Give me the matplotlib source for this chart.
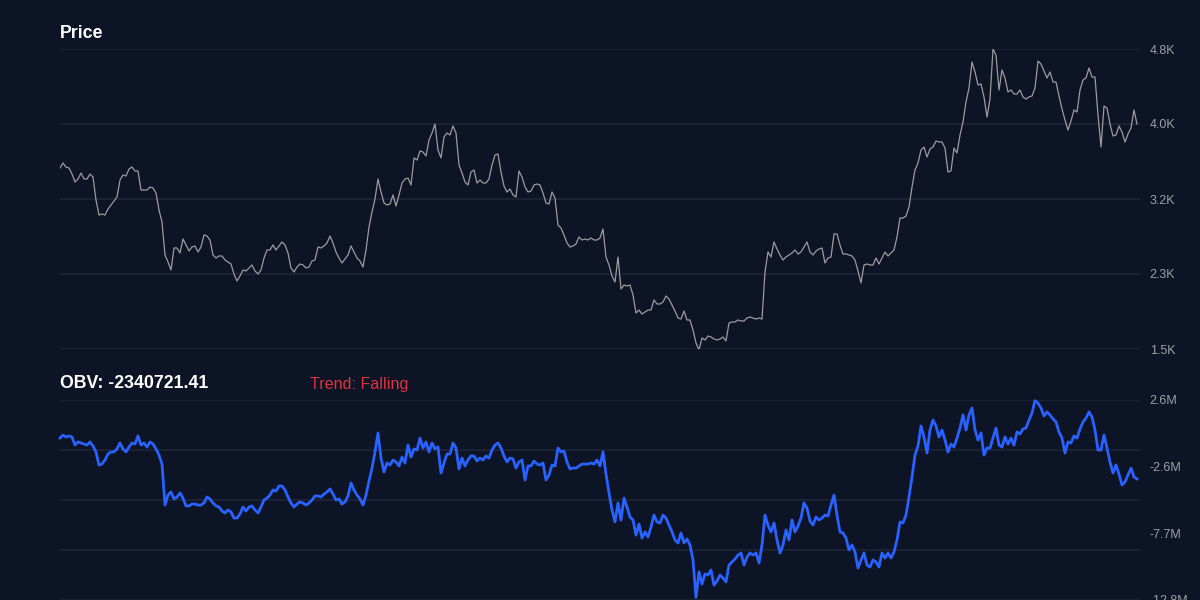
import matplotlib
matplotlib.use('Agg')
import matplotlib.pyplot as plt
import numpy as np

# daily close
price = [
    3491, 3546, 3502, 3491, 3425, 3337, 3370, 3436, 3370, 3370,
    3425, 3392, 3139, 2974, 2985, 2974, 3040, 3084, 3128, 3172,
    3359, 3414, 3403, 3480, 3502, 3458, 3458, 3249, 3249, 3249,
    3282, 3271, 3216, 3029, 2897, 2534, 2457, 2369, 2611, 2611,
    2556, 2710, 2644, 2578, 2622, 2633, 2567, 2622, 2754, 2743,
    2699, 2534, 2501, 2523, 2523, 2479, 2457, 2435, 2325, 2248,
    2303, 2369, 2358, 2391, 2424, 2358, 2325, 2369, 2501, 2589,
    2589, 2644, 2589, 2633, 2677, 2644, 2556, 2391, 2347, 2402,
    2435, 2424, 2391, 2402, 2468, 2479, 2622, 2611, 2633, 2666,
    2743, 2666, 2567, 2501, 2446, 2490, 2534, 2633, 2567, 2501,
    2468, 2402, 2589, 2842, 3007, 3150, 3370, 3227, 3106, 3084,
    3095, 3194, 3073, 3194, 3326, 3370, 3381, 3304, 3601, 3579,
    3678, 3667, 3623, 3799, 3876, 3975, 3689, 3601, 3832, 3876,
    3854, 3953, 3876, 3524, 3436, 3337, 3304, 3447, 3469, 3326,
    3359, 3326, 3326, 3370, 3524, 3634, 3645, 3447, 3293, 3227,
    3260, 3194, 3172, 3458, 3392, 3282, 3227, 3238, 3304, 3315,
    3304, 3216, 3106, 3095, 3227, 3161, 2864, 2831, 2754, 2666,
    2622, 2633, 2655, 2732, 2699, 2710, 2699, 2721, 2699, 2699,
    2721, 2820, 2512, 2424, 2303, 2237, 2512, 2160, 2204, 2193,
    2204, 2094, 1896, 1929, 1885, 1907, 1929, 1929, 2039, 1995,
    1995, 2017, 2083, 2050, 1984, 1918, 1841, 1830, 1918, 1819,
    1819, 1709, 1566, 1490, 1621, 1599, 1643, 1632, 1610, 1599,
    1610, 1632, 1588, 1786, 1797, 1797, 1819, 1808, 1808, 1841,
    1852, 1841, 1830, 1841, 1830, 2347, 2567, 2512, 2677, 2600,
    2534, 2479, 2512, 2534, 2556, 2589, 2545, 2567, 2622, 2677,
    2567, 2534, 2578, 2600, 2611, 2446, 2501, 2512, 2765, 2765,
    2644, 2545, 2545, 2534, 2523, 2479, 2358, 2226, 2424, 2435,
    2424, 2424, 2501, 2435, 2501, 2567, 2523, 2556, 2589, 2732,
    2941, 2941, 2963, 3062, 3282, 3469, 3546, 3689, 3722, 3612,
    3700, 3722, 3788, 3777, 3777, 3711, 3447, 3458, 3711, 3656,
    3854, 3997, 4217, 4371, 4657, 4547, 4404, 4415, 4272, 4052,
    4250, 4800, 4734, 4349, 4569, 4481, 4327, 4349, 4305, 4305,
    4349, 4272, 4250, 4272, 4283, 4371, 4668, 4635, 4558, 4481,
    4547, 4437, 4437, 4283, 4140, 4019, 3909, 4008, 4129, 4107,
    4349, 4459, 4481, 4591, 4492, 4492, 4074, 3722, 4173, 4151,
    3975, 3843, 3854, 3953, 3887, 3777, 3865, 3931, 4129, 3975,
]

# on-balance volume, millions
obv = [
    -0.33, -0.10, -0.25, -0.17, -0.25, -0.87, -0.63, -0.71, -0.79, -0.87,
    -0.63, -0.94, -1.40, -2.41, -2.33, -2.02, -1.56, -1.40, -1.40, -1.17,
    -0.71, -1.17, -1.40, -1.02, -0.71, -0.79, -0.17, -0.87, -0.71, -1.02,
    -0.63, -0.79, -1.17, -1.64, -2.33, -5.49, -4.72, -4.48, -5.02, -4.87,
    -4.56, -4.95, -5.56, -5.56, -5.41, -5.41, -5.49, -5.49, -5.33, -4.87,
    -5.02, -5.33, -5.56, -5.64, -5.95, -6.10, -5.87, -6.02, -6.49, -6.49,
    -6.18, -5.64, -5.95, -5.64, -5.56, -5.87, -6.10, -5.64, -5.10, -4.95,
    -4.72, -4.33, -4.41, -4.02, -4.02, -4.33, -4.87, -5.33, -5.64, -5.41,
    -5.25, -5.33, -5.49, -5.33, -5.10, -4.79, -4.79, -4.87, -4.64, -4.48,
    -4.25, -4.64, -5.10, -5.02, -5.41, -5.25, -4.79, -3.79, -4.33, -4.72,
    -5.02, -5.49, -4.72, -3.64, -2.64, -1.40, 0.06, -1.87, -2.94, -2.25,
    -2.41, -2.02, -2.17, -2.48, -1.79, -2.25, -0.87, -1.79, -1.17, -1.25,
    -0.33, -1.10, -0.63, -1.40, -0.71, -1.17, -1.02, -3.02, -2.25, -1.56,
    -1.56, -0.71, -1.10, -2.71, -1.87, -2.48, -2.02, -1.71, -1.71, -2.10,
    -1.87, -2.02, -1.71, -1.87, -1.25, -0.87, -0.71, -1.10, -1.71, -2.17,
    -1.87, -1.94, -2.64, -2.17, -2.02, -3.56, -2.48, -2.48, -2.10, -2.33,
    -2.41, -2.25, -3.56, -3.18, -2.41, -2.48, -1.10, -1.40, -1.33, -2.17,
    -2.71, -2.64, -2.64, -2.48, -2.33, -2.33, -2.33, -2.25, -2.33, -2.02,
    -2.48, -1.40, -3.10, -4.56, -5.87, -6.79, -5.33, -6.64, -4.95, -5.64,
    -6.41, -6.64, -7.80, -6.95, -8.03, -7.56, -7.95, -7.18, -6.26, -6.79,
    -6.87, -6.26, -6.49, -7.03, -7.56, -8.18, -8.41, -7.64, -8.41, -8.10,
    -8.57, -9.72, -12.60, -10.64, -11.57, -10.80, -10.88, -10.49, -11.65, -11.34,
    -10.88, -11.11, -11.41, -10.11, -9.87, -9.64, -9.34, -9.18, -10.11, -9.49,
    -9.18, -9.34, -9.18, -9.95, -8.57, -6.26, -7.03, -7.56, -6.87, -8.18,
    -9.18, -8.57, -7.41, -8.18, -6.64, -7.56, -7.10, -6.49, -5.33, -5.72,
    -6.72, -7.03, -6.41, -6.64, -6.49, -6.26, -6.33, -5.49, -4.72, -6.26,
    -7.56, -7.64, -8.03, -8.95, -8.57, -9.10, -10.34, -9.72, -9.18, -10.11,
    -10.26, -9.72, -9.87, -10.26, -9.18, -9.57, -9.18, -9.57, -9.10, -8.18,
    -6.79, -6.87, -6.26, -4.87, -3.33, -1.64, -0.94, 0.60, -0.25, -1.48,
    0.29, 1.06, 0.60, -0.25, 0.29, -0.48, -1.40, -0.79, -1.02, -0.33,
    0.44, 1.45, 0.29, 1.45, 1.98, 0.29, -0.48, 0.06, -1.64, -1.10,
    -1.10, -0.33, 0.44, -0.87, -1.02, -0.25, -0.79, -0.33, -0.87, 0.14,
    -0.02, 0.37, 0.44, 1.06, 1.60, 2.55, 2.37, 1.98, 1.37, 1.68,
    1.45, 1.14, 0.91, 0.14, -0.33, -1.48, -0.63, -0.71, -0.17, -0.33,
    0.37, 0.91, 1.21, 1.68, 1.29, 0.29, -1.25, -1.25, -0.10, -1.10,
    -2.17, -3.02, -2.41, -3.10, -3.95, -3.71, -3.18, -2.64, -3.33, -3.48,
]

price_range = (1500, 4800)
price_ticks = ['1.5K', '2.3K', '3.2K', '4.0K', '4.8K']
obv_range = (-12.8, 2.6)
obv_ticks = ['-12.8M', '-7.7M', '-2.6M', '2.6M']
obv_label = 'OBV: -2340721.41'
trend_label = 'Trend: Falling'

BG = '#0c1426'
GRID = '#1d2636'
TICK = '#9aa0a9'

plt.rcParams['font.family'] = ['Liberation Sans', 'DejaVu Sans']

fig = plt.figure(figsize=(12, 6), dpi=100, facecolor=BG)
ax1 = fig.add_axes([0.05, 1 - 349 / 600, 0.9, 0.5])
ax2 = fig.add_axes([0.05, 0.0, 0.9, 200 / 600])

x = np.arange(len(price))

for ax in (ax1, ax2):
    ax.set_facecolor(BG)
    for s in ax.spines.values():
        s.set_visible(False)
    ax.set_xlim(0, len(price))
    ax.set_xticks([])
    ax.yaxis.tick_right()
    ax.tick_params(axis='y', length=0, pad=7, labelsize=9, labelcolor=TICK)

# price panel
ax1.set_ylim(*price_range)
levels = np.linspace(price_range[0], price_range[1], 5)
for lv in levels:
    ax1.axhline(lv, color=GRID, lw=1.2, zorder=0)
ax1.set_yticks(levels)
ax1.set_yticklabels(price_ticks)
ax1.plot(x, price, color='#9c9c9c', lw=0.9)

# obv panel
ax2.set_ylim(*obv_range)
for lv in np.linspace(obv_range[0], obv_range[1], 5):
    ax2.axhline(lv, color=GRID, lw=1.2, zorder=0)
ax2.set_yticks(np.linspace(obv_range[0], obv_range[1], 4))
ax2.set_yticklabels(obv_ticks)
ax2.plot(x, obv, color='#2962ff', lw=2.0, clip_on=False)

fig.text(60 / 1200, 1 - 34 / 600, 'Price', color='white', fontsize=12.8,
         fontweight='bold', va='center', ha='left')
fig.text(60 / 1200, 1 - 384 / 600, obv_label, color='white', fontsize=12.8,
         fontweight='bold', va='center', ha='left')
fig.text(310 / 1200, 1 - 384 / 600, trend_label, color='#e0323f', fontsize=11.6,
         va='center', ha='left')

fig.savefig('out.png', dpi=100, facecolor=BG)
plt.close()
